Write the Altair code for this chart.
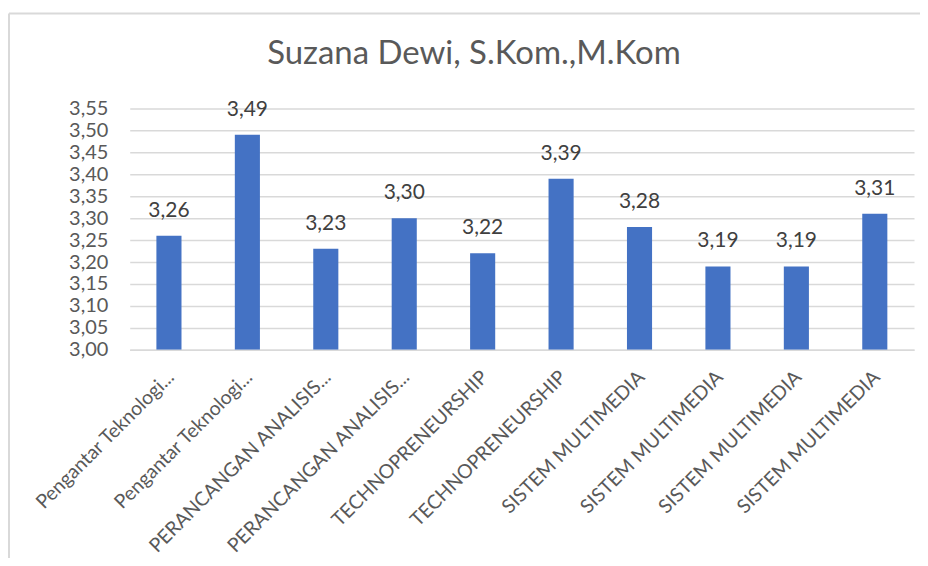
import json
import altair as alt
import pandas as pd

courses = [
    "Pengantar Teknologi...",
    "Pengantar Teknologi...",
    "PERANCANGAN ANALISIS...",
    "PERANCANGAN ANALISIS...",
    "TECHNOPRENEURSHIP",
    "TECHNOPRENEURSHIP",
    "SISTEM MULTIMEDIA",
    "SISTEM MULTIMEDIA",
    "SISTEM MULTIMEDIA",
    "SISTEM MULTIMEDIA",
]
scores = [3.26, 3.49, 3.23, 3.30, 3.22, 3.39, 3.28, 3.19, 3.19, 3.31]
y_ticks = [3.00, 3.05, 3.10, 3.15, 3.20, 3.25, 3.30, 3.35, 3.40, 3.45, 3.50, 3.55]
title_text = "Suzana Dewi, S.Kom.,M.Kom"

df = pd.DataFrame({"idx": list(range(len(courses))), "course": courses, "score": scores})
title_df = pd.DataFrame({"t": [title_text]})

FONT = "Lato"
GREY = "#595959"
GRID = "#d9d9d9"
BLUE = "#4472C4"

label_expr = json.dumps(courses) + "[datum.value]"

x_enc = alt.X(
    "idx:O",
    sort=None,
    scale=alt.Scale(paddingInner=0.68, paddingOuter=0.34),
    axis=alt.Axis(
        title=None,
        labelExpr=label_expr,
        labelAngle=-45,
        labelAlign="right",
        labelBaseline="middle",
        labelFont=FONT,
        labelFontSize=19.5,
        labelColor=GREY,
        labelPadding=24,
        labelOffset=2,
        labelLimit=400,
        labelOverlap=False,
        ticks=False,
        tickSize=0,
        domain=True,
        domainColor=GRID,
        domainWidth=1.5,
        grid=False,
    ),
)
y_enc = alt.Y(
    "score:Q",
    scale=alt.Scale(domain=[3.0, 3.55], zero=False, nice=False),
    axis=alt.Axis(
        title=None,
        values=y_ticks,
        tickCount=12,
        labelExpr="replace(format(datum.value, '.2f'), '.', ',')",
        labelFont=FONT,
        labelFontSize=20,
        labelColor=GREY,
        labelPadding=22,
        labelOverlap=False,
        labelFlush=False,
        labelBound=False,
        ticks=False,
        tickSize=0,
        domain=False,
        grid=True,
        gridColor=GRID,
        gridWidth=1.5,
    ),
)

base = alt.Chart(df)

bars = base.mark_bar(color=BLUE, clip=True).encode(x=x_enc, y=y_enc, y2=alt.datum(3.0))

labels = base.transform_calculate(
    lbl="replace(format(datum.score, '.2f'), '.', ',')"
).mark_text(font=FONT, fontSize=21, color="#404040", baseline="middle", dy=-25).encode(
    x=x_enc, y=y_enc, text="lbl:N"
)

title = alt.Chart(title_df).mark_text(
    font=FONT, fontSize=33, color=GREY, align="center", baseline="alphabetic"
).encode(x=alt.value(345), y=alt.value(-44), text="t:N")

frame_left = alt.Chart(title_df).mark_rule(color=GRID, strokeWidth=2).encode(
    x=alt.value(-121), y=alt.value(-95), y2=alt.value(460)
)
frame_top = alt.Chart(title_df).mark_rule(color=GRID, strokeWidth=2).encode(
    x=alt.value(-121), x2=alt.value(800), y=alt.value(-95)
)

chart = (
    alt.layer(frame_left, frame_top, bars, labels, title)
    .properties(
        width=786,
        height=242,
        autosize=alt.AutoSizeParams(type="none"),
        padding={"left": 122, "top": 100, "right": 6, "bottom": 208},
    )
    .configure_view(stroke=None)
)

chart.save("out.html", embed_options={"renderer": "svg", "actions": False})
